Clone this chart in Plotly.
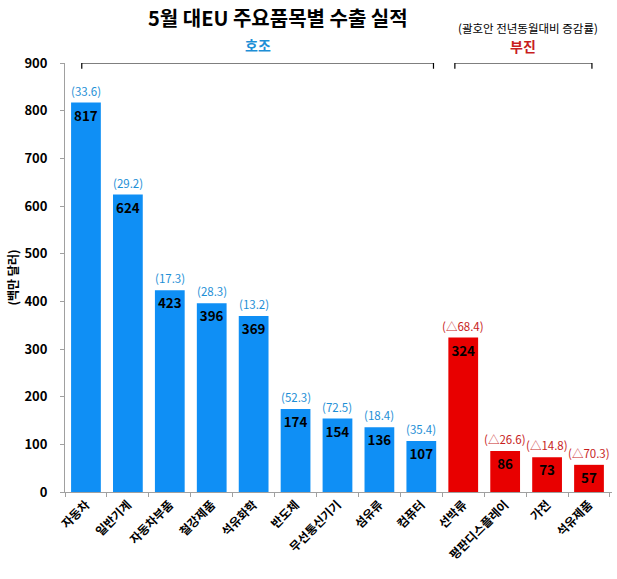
import plotly.graph_objects as go

categories = ["자동차", "일반기계", "자동차부품", "철강제품", "석유화학", "반도체",
              "무선통신기기", "섬유류", "컴퓨터", "선박류", "평판디스플레이", "가전", "석유제품"]
values = [817, 624, 423, 396, 369, 174, 154, 136, 107, 324, 86, 73, 57]
growth = ["(33.6)", "(29.2)", "(17.3)", "(28.3)", "(13.2)", "(52.3)", "(72.5)",
          "(18.4)", "(35.4)", "(△68.4)", "(△26.6)", "(△14.8)", "(△70.3)"]
good = [True] * 9 + [False] * 4

BLUE = "#0F8FF5"
RED = "#E80000"
BLUE_TXT = "#1E8FD6"
RED_TXT = "#C81E1E"
FONT = "Noto Sans CJK KR"

fig = go.Figure()
fig.add_trace(go.Bar(
    x=categories, y=values,
    marker=dict(color=[BLUE if g else RED for g in good], line=dict(width=0)),
    width=0.71,
    text=[str(v) for v in values],
    textposition="inside", insidetextanchor="end",
    textfont=dict(family=FONT, size=15, color="black", weight="bold"),
    textangle=0,
    showlegend=False,
))

annotations = []
for c, v, g, ok in zip(categories, values, growth, good):
    annotations.append(dict(
        x=c, y=v, xref="x", yref="y", text=g, showarrow=False,
        yanchor="bottom", yshift=2,
        font=dict(family=FONT, size=11.5, color=BLUE_TXT if ok else RED_TXT),
    ))

annotations += [
    dict(x=0.5, y=1.0, xref="paper", yref="paper", yanchor="top", yshift=62,
         xshift=-61, text="<b>5월 대EU 주요품목별 수출 실적</b>", showarrow=False,
         font=dict(family=FONT, size=20, color="black")),
    dict(x=1.0, y=1.0, xref="paper", yref="paper", yanchor="bottom", xanchor="right",
         xshift=-12, yshift=25, text="(괄호안 전년동월대비 증감률)", showarrow=False,
         font=dict(family=FONT, size=11.5, color="black")),
    dict(x=4.1, y=1.0, xref="x", yref="paper", yanchor="bottom", yshift=6,
         text="<b>호조</b>", showarrow=False,
         font=dict(family=FONT, size=14, color=BLUE_TXT)),
    dict(x=10.43, y=1.0, xref="x", yref="paper", yanchor="bottom", yshift=5,
         text="<b>부진</b>", showarrow=False,
         font=dict(family=FONT, size=14, color=RED_TXT)),
    dict(x=0, y=0.5, xref="paper", yref="paper", xanchor="center", xshift=-53,
         text="<b>(백만 달러)</b>", textangle=-90, showarrow=False,
         font=dict(family=FONT, size=12, color="black")),
]

shapes = []
for x0, x1 in [(-0.1, 8.29), (8.8, 12.07)]:
    shapes.append(dict(type="path", xref="x", yref="y",
                       path=f"M {x0},888 L {x0},900 L {x1},900 L {x1},888",
                       line=dict(color="black", width=1.2)))

fig.update_layout(
    width=617, height=579,
    margin=dict(l=65, r=5, t=63, b=87),
    plot_bgcolor="white", paper_bgcolor="white",
    bargap=0.29,
    annotations=annotations, shapes=shapes,
    font=dict(family=FONT, color="black"),
    uniformtext=dict(minsize=8, mode="show"),
)
fig.update_xaxes(
    tickangle=-45, tickfont=dict(family=FONT, size=12, color="black", weight="bold"),
    showline=True, linecolor="#A0A0A0", linewidth=1,
    ticks="outside", tickson="boundaries", ticklen=4, tickcolor="#A0A0A0",
)
fig.update_yaxes(
    range=[0, 900], dtick=100, showgrid=False,
    tickfont=dict(family=FONT, size=13, color="black", weight="bold"),
    showline=True, linecolor="#A0A0A0", linewidth=1,
    ticks="outside", ticklen=4, tickcolor="#A0A0A0", ticklabelstandoff=10,
)

fig.write_html("out.html", config={"displayModeBar": False},
               post_script="document.body.style.margin='0';")
